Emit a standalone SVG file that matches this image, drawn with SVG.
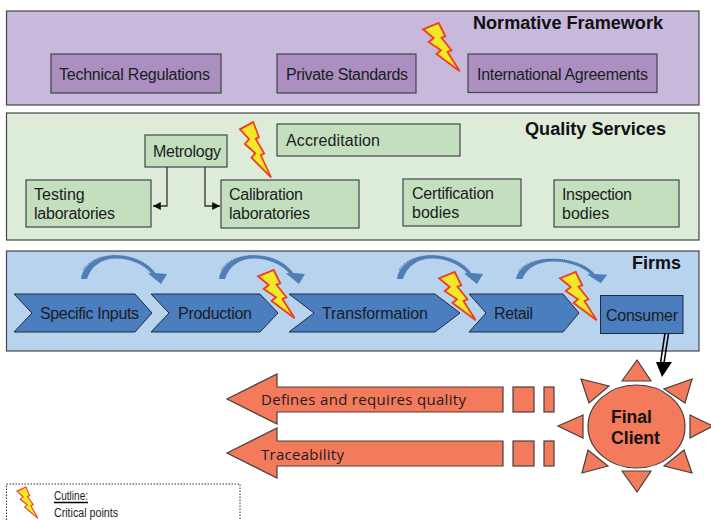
<svg xmlns="http://www.w3.org/2000/svg" width="711" height="520" viewBox="0 0 711 520">
<style>
text{font-family:"Liberation Sans",Arial,sans-serif;font-size:16px;fill:#1c1c22}
.title{font-weight:bold;font-size:18px;fill:#111}
.panel,.box{stroke:#44444c;stroke-width:1.2}
.p1{fill:#c8b8dc}.b1{fill:#ab8fc1}
.p2{fill:#dcecd9}.b2{fill:#c3dfbd}
.p3{fill:#b8d3ee}.b3{fill:#4a7ebf;stroke:#1f2a3c;stroke-width:1}
.sun{fill:#f47a5c;stroke:#44403e;stroke-width:1.2}
.bolt{fill:#f2e82a;stroke:#f03c20;stroke-width:1.8;stroke-linejoin:miter}
.curve{fill:#4f7fb8}
.rim{fill:none;stroke:#2b3a50;stroke-width:.7;stroke-dasharray:1 1}
.ql{font-family:"Open Sans","DejaVu Sans",sans-serif;font-size:15px}
.conn{fill:none;stroke:#333;stroke-width:1.3}
.small{font-size:12.5px}
</style>
<defs>
<polygon id="bolt" class="bolt" points="0,6.300 15.700,0 22.300,13.300 18.500,14.700 28.500,27.300 24.500,29 36.700,48.300 13.500,31 18,27.300 5.700,19 10.700,15"/>
<g id="curve"><path class="curve" d="M81,279 C83,264 98,255.500 115,255.500 C132,255.500 147,262 155,273 L167,274 L161,284 L148,273.500 L151,273 C143,264 130,258.500 116,258.500 C102,258.500 91,266 87,279 Z"/><path class="rim" d="M83,270 C87,262 100,255.500 115,255.500 C132,255.500 147,262 155,273"/></g>
<marker id="ah" markerWidth="7" markerHeight="7" refX="6" refY="3" orient="auto"><path d="M0,0 L6,3 L0,6 Z" fill="#111"/></marker>
</defs>
<g id="normative-framework">
<rect class="panel p1" x="6.500" y="11" width="692.500" height="94"/>
<text class="title" x="473" y="29" textLength="190" lengthAdjust="spacingAndGlyphs">Normative Framework</text>
</g>
<g id="technical-regulations"><rect class="box b1" x="51" y="54" width="170" height="39"/><text x="59" y="80" textLength="151">Technical Regulations</text></g>
<g id="private-standards"><rect class="box b1" x="277" y="54" width="139" height="39"/><text x="286" y="80" textLength="122">Private Standards</text></g>
<g id="international-agreements"><rect class="box b1" x="468" y="54" width="189" height="38.500"/><text x="477" y="80" textLength="171">International Agreements</text></g>
<g id="quality-services">
<rect class="panel p2" x="6.500" y="113" width="692.500" height="127"/>
<text class="title" x="525" y="135" textLength="141" lengthAdjust="spacingAndGlyphs">Quality Services</text>
</g>
<g id="accreditation"><rect class="box b2" x="277" y="124" width="183" height="32"/><text x="286" y="146" textLength="94">Accreditation</text></g>
<g id="metrology"><rect class="box b2" x="145" y="135" width="82" height="32"/><text x="153" y="157" textLength="68">Metrology</text></g>
<g id="testing-laboratories"><rect class="box b2" x="26" y="180" width="125" height="47"/><text x="34" y="200">Testing</text><text x="34" y="219" textLength="81">laboratories</text></g>
<g id="calibration-laboratories"><rect class="box b2" x="221" y="180" width="138" height="48"/><text x="229" y="200" textLength="74">Calibration</text><text x="229" y="219" textLength="81">laboratories</text></g>
<g id="certification-bodies"><rect class="box b2" x="403" y="179" width="118" height="47"/><text x="412" y="199" textLength="82">Certification</text><text x="412" y="218">bodies</text></g>
<g id="inspection-bodies"><rect class="box b2" x="554" y="180" width="125" height="47"/><text x="562" y="200" textLength="70">Inspection</text><text x="562" y="219">bodies</text></g>
<g id="firms">
<rect class="panel p3" x="6.500" y="251" width="692.500" height="100"/>
<text class="title" x="632" y="269" textLength="49" lengthAdjust="spacingAndGlyphs">Firms</text>
</g>
<g id="specific-inputs"><polygon class="b3" points="14,294 135,294 152,313 135,332 14,332 32,313"/><text x="40" y="319" textLength="99">Specific Inputs</text></g>
<g id="production"><polygon class="b3" points="151,294 260,294 278,313 260,332 151,332 169,313"/><text x="178" y="319" textLength="74">Production</text></g>
<g id="transformation"><polygon class="b3" points="289,294 435,294 460,313 435,332 289,332 314,313"/><text x="322" y="319" textLength="106">Transformation</text></g>
<g id="retail"><polygon class="b3" points="469,294 563,294 579,313 563,332 469,332 486,313"/><text x="494" y="319" textLength="39">Retail</text></g>
<g id="consumer"><rect class="b3" x="600.500" y="295.500" width="82.500" height="38"/><text x="606" y="321" textLength="72">Consumer</text></g>
<g id="curved-arrows">
<use href="#curve"/>
<use href="#curve" x="138"/>
<use href="#curve" x="316"/>
<use href="#curve" transform="translate(516,259) scale(1.06,0.85) translate(-81,-255.500)"/>
</g>
<g id="connectors">
<path class="conn" d="M167,167 V206 H153" marker-end="url(#ah)"/>
<path class="conn" d="M205,167 V206 H220" marker-end="url(#ah)"/>
<path d="M665,333 L660.500,363 M668.500,333.500 L664,363" fill="none" stroke="#000" stroke-width="1.600"/>
<polygon points="656,362 672,362 662,377" fill="#000"/>
</g>
<g id="defines-and-requires-quality"><polygon class="sun" points="227,399 277,374 277,387 503,387 503,412 277,412 277,424"/><rect class="sun" x="513" y="387" width="21" height="25"/><rect class="sun" x="544" y="387" width="10" height="25"/><text class="ql" x="261" y="405" textLength="205">Defines and requires quality</text></g>
<g id="traceability"><polygon class="sun" points="227,453 277,428 277,441 503,441 503,466 277,466 277,478"/><rect class="sun" x="513" y="441" width="21" height="25"/><rect class="sun" x="544" y="441" width="10" height="25"/><text class="ql" x="261" y="460" textLength="83">Traceability</text></g>
<g id="final-client">
<ellipse class="sun" cx="636.500" cy="426.500" rx="48.500" ry="41.500"/>
<polygon class="sun" points="622,381 637,360 651,381"/>
<polygon class="sun" points="622,471 637,492 651,471"/>
<polygon class="sun" points="583,415 558,426 583,438"/>
<polygon class="sun" points="690,415 713,426 690,438"/>
<polygon class="sun" points="581,379 609,386 589,403"/>
<polygon class="sun" points="692,379 664,389 685,403"/>
<polygon class="sun" points="582,473 608,466 588,450"/>
<polygon class="sun" points="692,473 664,466 684,450"/>
<text class="title" x="611" y="423" textLength="41" lengthAdjust="spacingAndGlyphs">Final</text>
<text class="title" x="611" y="444" textLength="49" lengthAdjust="spacingAndGlyphs">Client</text>
</g>
<g id="critical-points">
<use href="#bolt" x="423" y="23"/>
<use href="#bolt" transform="translate(240,122) scale(.85,1.15)"/>
<use href="#bolt" x="258" y="270"/>
<use href="#bolt" x="439" y="272"/>
<use href="#bolt" x="560" y="272"/>
</g>
<g id="legend">
<rect x="6.500" y="484" width="233.500" height="50" fill="none" stroke="#333" stroke-width="1" stroke-dasharray="1.500 1.500"/>
<use href="#bolt" transform="translate(17,487) scale(.57,.65)"/>
<text class="small" x="54" y="500" textLength="34" lengthAdjust="spacingAndGlyphs">Cutline:</text>
<line x1="54" y1="502.500" x2="88" y2="502.500" stroke="#000" stroke-width="1.400"/>
<text class="small" x="54" y="517" textLength="64" lengthAdjust="spacingAndGlyphs">Critical points</text>
</g>
</svg>
